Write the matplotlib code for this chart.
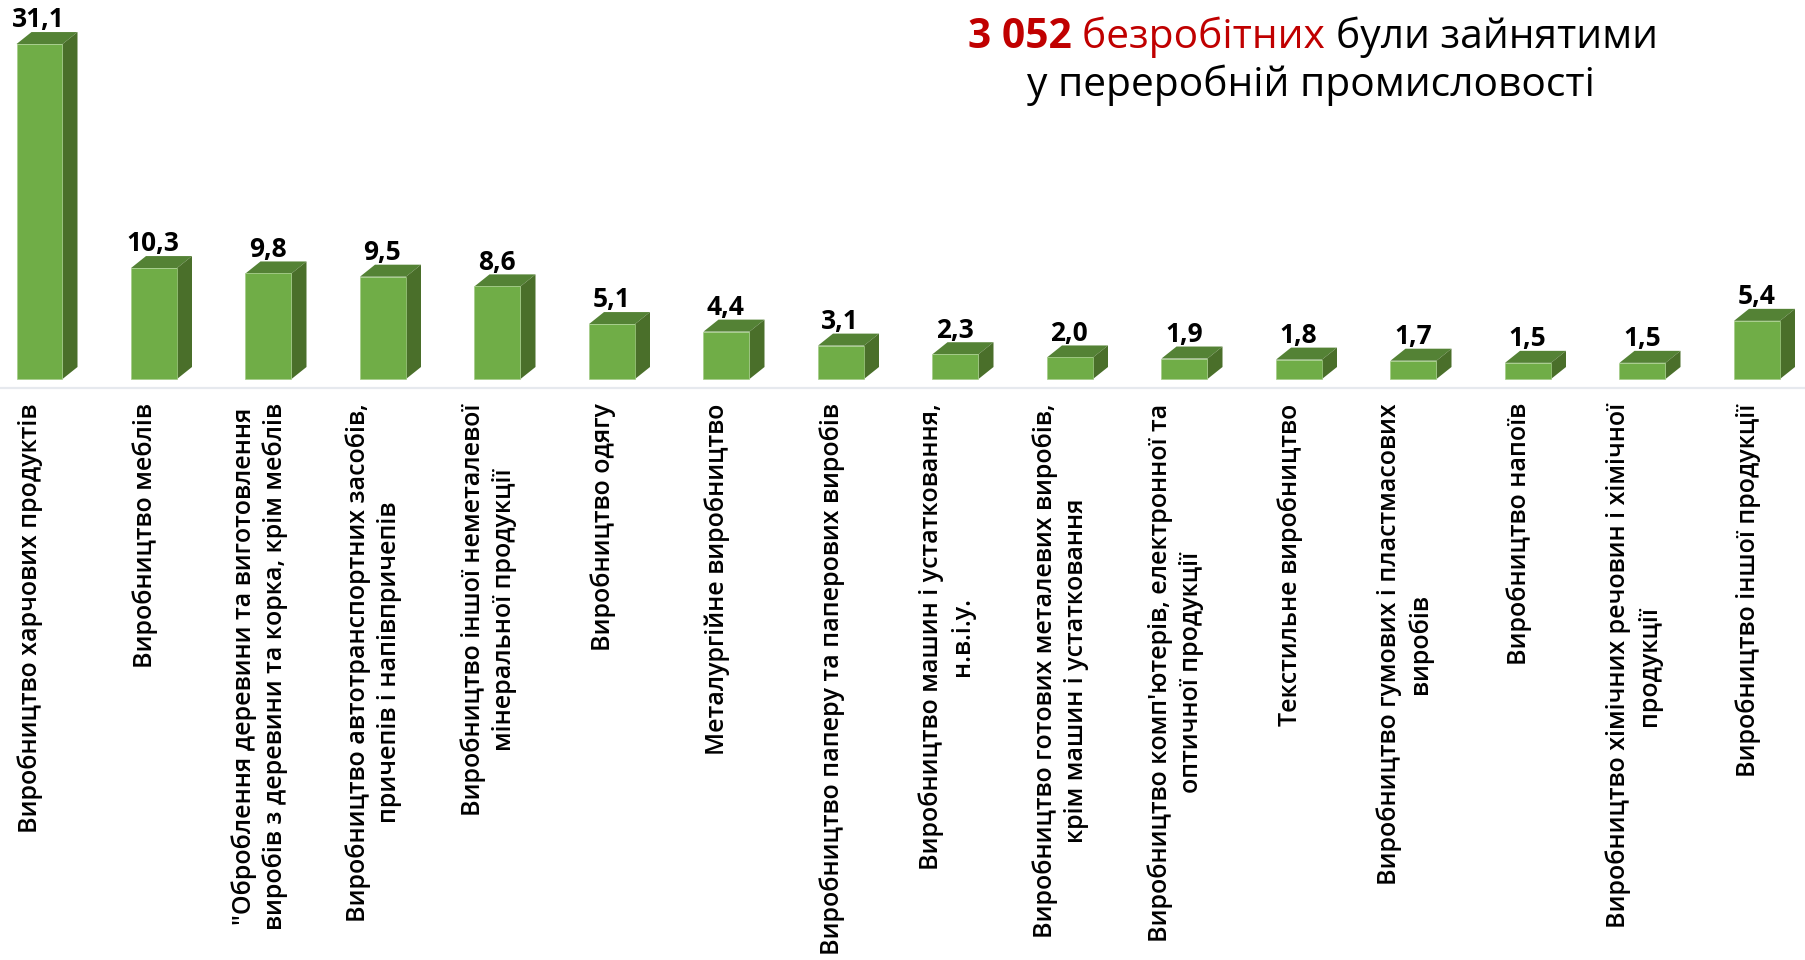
import matplotlib
matplotlib.use("Agg")
import matplotlib.pyplot as plt

labels = [
    "Виробництво харчових продуктів",
    "Виробництво меблів",
    "\"Оброблення деревини та виготовлення\nвиробів з деревини та корка, крім меблів",
    "Виробництво автотранспортних засобів,\nпричепів і напівпричепів",
    "Виробництво іншої неметалевої\nмінеральної продукції",
    "Виробництво одягу",
    "Металургійне виробництво",
    "Виробництво паперу та паперових виробів",
    "Виробництво машин і устатковання,\nн.в.і.у.",
    "Виробництво готових металевих виробів,\nкрім машин і устатковання",
    "Виробництво комп'ютерів, електронної та\nоптичної продукції",
    "Текстильне виробництво",
    "Виробництво гумових і пластмасових\nвиробів",
    "Виробництво напоїв",
    "Виробництво хімічних речовин і хімічної\nпродукції",
    "Виробництво іншої продукції",
]
values = [31.1, 10.3, 9.8, 9.5, 8.6, 5.1, 4.4, 3.1, 2.3, 2.0, 1.9, 1.8, 1.7, 1.5, 1.5, 5.4]

# pixel layout of the slide
W, H = 1806, 960
spacing = 114.5
first_center = 39.5
base_y = 379.0
unit = 10.77

bar_w = 46 / spacing
dx = 15 / spacing
dy = 12 / unit

plt.rcParams["font.family"] = ["Open Sans", "DejaVu Sans"]

fig = plt.figure(figsize=(W / 100, H / 100), dpi=100)
ax = fig.add_axes([0, 0, 1, 1])
ax.set_xlim(-first_center / spacing, (W - first_center) / spacing)
ax.set_ylim(-(H - base_y) / unit, base_y / unit)
ax.axis("off")

ax.axhline(-9 / unit, color="#E6E9EE", lw=1.6)

xs = list(range(len(values)))
ax.bar(xs, values, width=bar_w, color="#70AD47", edgecolor="#A3CC87", linewidth=0.5, zorder=3)

for i, v in zip(xs, values):
    l = i - bar_w / 2
    r = i + bar_w / 2
    ax.fill([l, r, r + dx, l + dx], [v, v, v + dy, v + dy], color="#548235", lw=0, zorder=2)
    ax.fill([r, r + dx, r + dx, r], [0, dy, v + dy, v], color="#4A6F2A", lw=0, zorder=2)
    ax.annotate(str(v).replace(".", ","), (i, v + dy), xytext=(-0.5, -1), textcoords="offset points",
                ha="center", va="bottom", fontsize=19, fontweight="bold", color="#000000")
    ax.annotate(labels[i], (i, 0), xytext=(-6.5, -17.5), textcoords="offset points",
                rotation=90, ha="center", va="top", multialignment="center",
                fontsize=18, fontweight="semibold", color="#000000", linespacing=1.3)

# title, first line is three runs of different colour
t1 = fig.text(968 / W, 1 - 37 / H, "3 052 ", fontsize=29.3, fontweight="bold", color="#C00000", va="center")
t2 = ax.annotate("безробітних ", xy=(1, 0), xycoords=t1, fontsize=29.3, color="#C00000", va="bottom")
t3 = ax.annotate("були зайнятими", xy=(1, 0), xycoords=t2, fontsize=29.3, color="#000000", va="bottom")
fig.text(1311 / W, 1 - 85 / H, "у переробній промисловості", fontsize=29.3, color="#000000",
         ha="center", va="center")

fig.savefig("out.png", dpi=100)
